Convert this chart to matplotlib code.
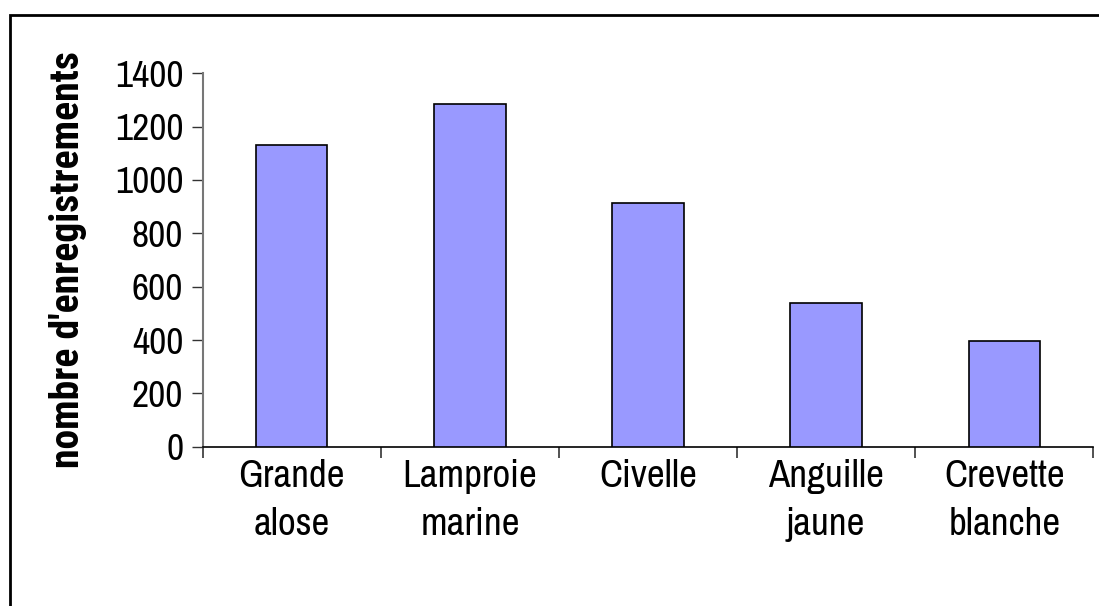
import matplotlib
matplotlib.use('Agg')
import matplotlib.pyplot as plt
from matplotlib.patches import Rectangle
import numpy as np

categories = ['Grande\nalose', 'Lamproie\nmarine', 'Civelle', 'Anguille\njaune', 'Crevette\nblanche']
records = [1130, 1285, 915, 540, 395]
yticks = [0, 200, 400, 600, 800, 1000, 1200, 1400]

narrow = ['Archivo Narrow', 'DejaVu Sans']
narrow_bold = ['Roboto Condensed', 'Asap Condensed', 'DejaVu Sans']
plt.rcParams['font.family'] = narrow

fig = plt.figure(figsize=(10.99, 6.06), dpi=100)
ax = fig.add_axes([202.7 / 1099, 1 - 446.7 / 606, 890.6 / 1099, 373.4 / 606])

# frame around the whole chart, running off the right and bottom edges
fig.patches.append(Rectangle((10 / 1099, -0.1), 1.2, 1 - 15 / 606 + 0.1,
                             transform=fig.transFigure, fill=False,
                             edgecolor='black', linewidth=2))

x = np.arange(len(categories))
ax.bar(x, records, width=0.4, color='#9999FF', edgecolor='black', linewidth=1.2, zorder=3)

ax.set_xlim(-0.5, len(categories) - 0.5)
ax.set_ylim(0, 1400)
ax.set_yticks(yticks)
ax.set_yticklabels([str(v) for v in yticks], fontsize=27)

# category labels centred, ticks on category boundaries
ax.set_xticks(x)
ax.set_xticklabels(categories, fontsize=28, linespacing=1.45)
ax.tick_params(axis='x', which='major', length=0, pad=9)
ax.set_xticks(np.arange(-0.5, len(categories)), minor=True)
ax.tick_params(axis='x', which='minor', length=8, width=1.2, color='#333333', direction='out')
ax.tick_params(axis='y', length=8, width=1, color='#333333', pad=6)

for side in ['top', 'right']:
    ax.spines[side].set_visible(False)
ax.spines['left'].set_color('#777777')
ax.spines['left'].set_linewidth(1.5)
ax.spines['bottom'].set_color('black')
ax.spines['bottom'].set_linewidth(1.2)

ax.set_ylabel("nombre d'enregistrements", fontsize=28.5, fontweight='bold',
              family=narrow_bold, labelpad=20)

plt.savefig('out.png', dpi=100)
